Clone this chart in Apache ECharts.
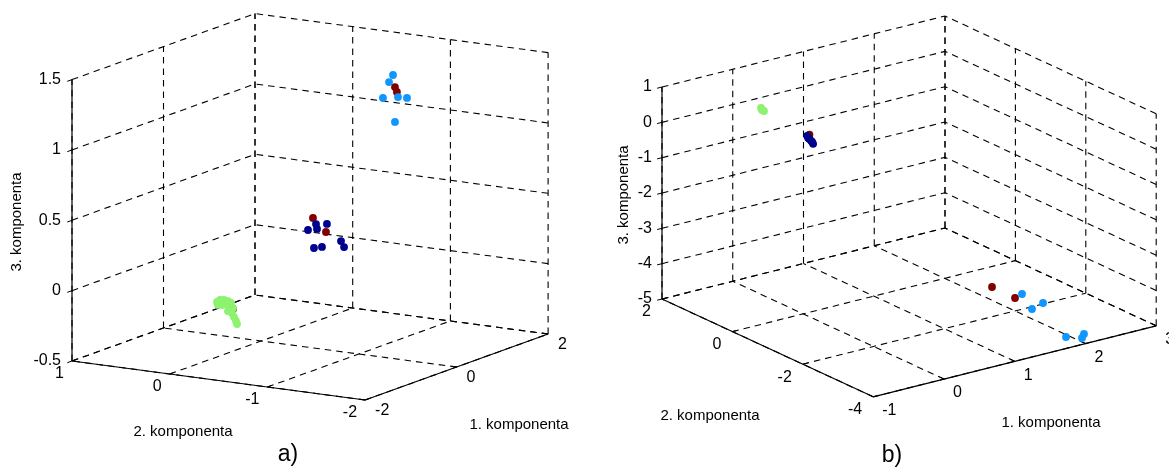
<!DOCTYPE html>
<html><head><meta charset="utf-8">
<script src="https://cdn.jsdelivr.net/npm/echarts@6/dist/echarts.min.js"></script>
<style>html,body{margin:0;padding:0;background:#fff}#c{width:1169px;height:468px}</style>
</head><body><div id="c"></div>
<script>
// ---------- DATA ----------
// Panel a) tick values
const xTicksA = [-2, 0, 2];
const yTicksA = [-2, -1, 0, 1];
const zTicksA = [-0.5, 0, 0.5, 1, 1.5];
// Panel b) tick values
const xTicksB = [-1, 0, 1, 2, 3];
const yTicksB = [-4, -2, 0, 2];
const zTicksB = [-5, -4, -3, -2, -1, 0, 1];

const axisTitles = ['1. komponenta', '2. komponenta', '3. komponenta'];
const panelLabels = ['a)', 'b)'];

// Panel a) points [1. komponenta, 2. komponenta, 3. komponenta]
const redA = [[0.5,-1.135,1.351],[0.5,-1.155,1.318],[0,-0.530,0.423],[0,-0.663,0.336],[-1,-0.180,-0.139]];
const navyA = [[0,-0.561,0.383],[0,-0.479,0.333],[0,-0.571,0.349],[0,-0.673,0.394],[0,-0.540,0.211],[0,-0.622,0.226],[0,-0.817,0.286],[0,-0.848,0.246]];
const lightBlueA = [[0.5,-1.115,1.435],[0.5,-1.074,1.381],[0.5,-1.012,1.262],[0.5,-1.166,1.283],[0.5,-1.258,1.285],[0.5,-1.135,1.103]];
const greenA = [[-1,-0.016,-0.104],[-1,-0.047,-0.087],[-1,-0.087,-0.083],[-1,-0.128,-0.087],[-1,-0.159,-0.098],[-1,-0.026,-0.124],[-1,-0.067,-0.121],[-1,-0.108,-0.110],[-1,-0.149,-0.120],[-1,-0.180,-0.132],[-1,-0.128,-0.158],[-1,-0.169,-0.168],[-1,-0.190,-0.195],[-1,-0.210,-0.221],[-1,-0.221,-0.242]];

// Panel b) points
const redB = [[0.089,0,0.028],[1.177,-3,-3.447],[1.502,-3,-3.922]];
const navyB = [[0.056,0,0.011],[0.084,0,-0.088],[0.113,0,-0.159],[0.141,0,-0.258],[0.070,0,-0.053],[0.127,0,-0.195]];
const lightBlueB = [[1.601,-3,-3.858],[1.898,-3,-4.262],[1.742,-3,-4.354],[1.775,-3.9,-4.748],[2.001,-3.9,-4.890],[2.029,-3.9,-4.791]];
const greenB = [[-0.098,1,0.414],[-0.056,1,0.308],[-0.084,1,0.351]];

// ---------- VIEW (orthographic projection, screen direction per data unit) ----------
const VIEW_A = {origin:[72,361], ex:[45.75,-16.5], ey:[-97.7,-13], ez:[0,-140.7],
  labX:[10,11], labY:[-8,13], labZ:-11,
  titles:[[519,425,0],[183,432,0],[17,222,1]], panel:[288,455]};
const VIEW_B = {origin:[662,299], ex:[70.75,-17.75], ey:[-35.2,-16.3], ez:[0,-35.33],
  labX:[9,14], labY:[-11,13], labZ:-10,
  titles:[[1051,423,0],[710,416,0],[624,195,1]], panel:[892,456]};

const COLORS = {red:'#800000', navy:'#00008f', light:'#0f96ff', green:'#8cf270'};
const FONT = "'Liberation Sans', Arial, Helvetica, sans-serif";

function ext(t){ return [Math.min.apply(null,t), Math.max.apply(null,t)]; }
function makeProj(view, xt, yt, zt){
  const X = ext(xt), Y = ext(yt), Z = ext(zt);
  view.X = X; view.Y = Y; view.Z = Z;
  view.p = function(x,y,z){
    const u = x - X[0], v = y - Y[1], w = z - Z[0];
    return [view.origin[0] + u*view.ex[0] + v*view.ey[0] + w*view.ez[0],
            view.origin[1] + u*view.ex[1] + v*view.ey[1] + w*view.ez[1]];
  };
  return view;
}
makeProj(VIEW_A, xTicksA, yTicksA, zTicksA);
makeProj(VIEW_B, xTicksB, yTicksB, zTicksB);

function gridSegs(view, xt, yt, zt){
  const [x0,x1] = view.X, [y0,y1] = view.Y, [z0,z1] = view.Z;
  const s = [];
  xt.forEach(x => s.push([x,y1,z0,x,y1,z1]));
  zt.forEach(z => s.push([x0,y1,z,x1,y1,z]));
  yt.forEach(y => s.push([x1,y,z0,x1,y,z1]));
  zt.forEach(z => s.push([x1,y0,z,x1,y1,z]));
  xt.forEach(x => s.push([x,y0,z0,x,y1,z0]));
  yt.forEach(y => s.push([x0,y,z0,x1,y,z0]));
  return s;
}
function axisSegs(view){
  const [x0,x1] = view.X, [y0,y1] = view.Y, [z0,z1] = view.Z;
  return [[x0,y1,z0,x0,y1,z1],[x0,y0,z0,x0,y1,z0],[x0,y0,z0,x1,y0,z0]];
}
function tickItems(xt, yt, zt){
  const d = [];
  xt.forEach(v => d.push([0, v]));
  yt.forEach(v => d.push([1, v]));
  zt.forEach(v => d.push([2, v]));
  return d;
}
function unit(v){ const l = Math.hypot(v[0], v[1]); return [v[0]/l, v[1]/l]; }

function segSeries(view, data, dashed, z){
  return {
    type:'custom', coordinateSystem:'cartesian2d', z:z, silent:true,
    dimensions:['a','b','c','d','e','f'], encode:{x:0, y:1},
    data:data,
    renderItem:function(params, api){
      const a = api.coord(view.p(api.value(0), api.value(1), api.value(2)));
      const b = api.coord(view.p(api.value(3), api.value(4), api.value(5)));
      return {type:'line', shape:{x1:a[0],y1:a[1],x2:b[0],y2:b[1]},
        style:{stroke:'#000', lineWidth: dashed ? 1.1 : 1.2, lineDash: dashed ? [6.5,5] : null}};
    }
  };
}
function tickSeries(view, data){
  return {
    type:'custom', coordinateSystem:'cartesian2d', z:5, silent:true,
    dimensions:['axis','val'], encode:{x:0, y:1},
    data:data,
    renderItem:function(params, api){
      const ax = api.value(0), v = api.value(1);
      let p, dir, lx, ly, align;
      const ux = unit(view.ex), uy = unit(view.ey);
      if (ax === 0) { p = view.p(v, view.Y[0], view.Z[0]); dir = uy; lx = view.labX[0]; ly = view.labX[1]; align = 'left'; }
      else if (ax === 1) { p = view.p(view.X[0], v, view.Z[0]); dir = ux; lx = view.labY[0]; ly = view.labY[1]; align = 'right'; }
      else { p = view.p(view.X[0], view.Y[1], v); dir = [-ux[0], -ux[1]]; lx = view.labZ; ly = 0; align = 'right'; }
      const c = api.coord(p);
      return {type:'group', children:[
        {type:'line', shape:{x1:c[0], y1:c[1], x2:c[0]+dir[0]*5, y2:c[1]+dir[1]*5}, style:{stroke:'#000', lineWidth:1}},
        {type:'text', x:c[0]+lx, y:c[1]+ly, style:{text:String(v), fill:'#000', fontSize:16, fontFamily:FONT, align:align, verticalAlign:'middle'}}
      ]};
    }
  };
}
function pointSeries(view, data, color, z){
  return {
    type:'custom', coordinateSystem:'cartesian2d', z:z, silent:true,
    dimensions:['x','y','z'], encode:{x:0, y:1},
    data:data,
    renderItem:function(params, api){
      const c = api.coord(view.p(api.value(0), api.value(1), api.value(2)));
      return {type:'circle', shape:{cx:c[0], cy:c[1], r:3.9}, style:{fill:color, stroke:null}};
    }
  };
}
function titleGraphics(view, label){
  const g = [];
  view.titles.forEach((t, i) => {
    g.push({type:'text', x:t[0], y:t[1], rotation: t[2] ? Math.PI/2 : 0,
      style:{text:axisTitles[i], fill:'#000', fontSize:15, fontFamily:FONT,
        align:'center', verticalAlign:'middle', textAlign:'center', textVerticalAlign:'middle'}});
  });
  g.push({type:'text', x:view.panel[0], y:view.panel[1],
    style:{text:label, fill:'#000', fontSize:23, fontFamily:FONT,
      align:'center', verticalAlign:'middle', textAlign:'center', textVerticalAlign:'middle'}});
  return g;
}

const chart = echarts.init(document.getElementById('c'), null, {renderer:'canvas'});
chart.setOption({
  animation:false,
  backgroundColor:'#fff',
  grid:{left:0, right:0, top:0, bottom:0},
  xAxis:{type:'value', min:0, max:1169, show:false},
  yAxis:{type:'value', min:0, max:468, inverse:true, show:false},
  graphic:{elements: titleGraphics(VIEW_A, panelLabels[0]).concat(titleGraphics(VIEW_B, panelLabels[1]))},
  series:[
    segSeries(VIEW_A, gridSegs(VIEW_A, xTicksA, yTicksA, zTicksA), true, 1),
    segSeries(VIEW_A, axisSegs(VIEW_A), false, 2),
    tickSeries(VIEW_A, tickItems(xTicksA, yTicksA, zTicksA)),
    pointSeries(VIEW_A, redA, COLORS.red, 10),
    pointSeries(VIEW_A, navyA, COLORS.navy, 11),
    pointSeries(VIEW_A, lightBlueA, COLORS.light, 12),
    pointSeries(VIEW_A, greenA, COLORS.green, 13),
    segSeries(VIEW_B, gridSegs(VIEW_B, xTicksB, yTicksB, zTicksB), true, 1),
    segSeries(VIEW_B, axisSegs(VIEW_B), false, 2),
    tickSeries(VIEW_B, tickItems(xTicksB, yTicksB, zTicksB)),
    pointSeries(VIEW_B, redB, COLORS.red, 10),
    pointSeries(VIEW_B, navyB, COLORS.navy, 11),
    pointSeries(VIEW_B, lightBlueB, COLORS.light, 12),
    pointSeries(VIEW_B, greenB, COLORS.green, 13)
  ]
});
</script>
</body></html>
